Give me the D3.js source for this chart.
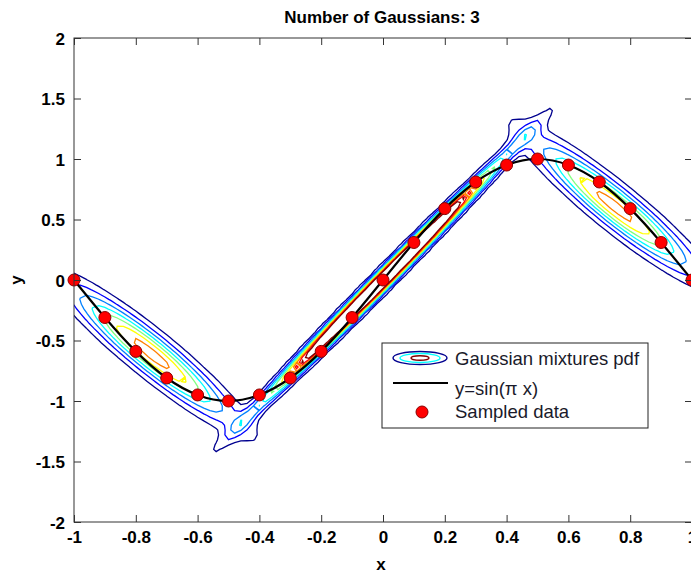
<!DOCTYPE html>
<html>
<head>
<meta charset="utf-8">
<script src="https://cdn.jsdelivr.net/npm/d3@7"></script>
<style>
  body { margin: 0; background: #fff; }
  svg { display: block; }
</style>
</head>
<body>
<div id="chart"></div>
<script>
/*
  GMM contour plot: Number of Gaussians: 3
*/

// sampled points of y = sin(pi x)
var sampleX = [-1, -0.9, -0.8, -0.7, -0.6, -0.5, -0.4, -0.3, -0.2, -0.1, 0,
               0.1, 0.2, 0.3, 0.4, 0.5, 0.6, 0.7, 0.8, 0.9, 1],
    sampleY = [0, -0.31, -0.59, -0.81, -0.95, -1, -0.95, -0.81, -0.59, -0.31, 0,
               0.31, 0.59, 0.81, 0.95, 1, 0.95, 0.81, 0.59, 0.31, 0];

// fitted mixture components
var mixWeights = [0.286, 0.428, 0.286],
    mixMeanX = [-0.75, 0, 0.75],
    mixMeanY = [-0.609, 0, 0.609],
    mixVarX = [0.0292, 0.053, 0.0292],
    mixVarY = [0.1285, 0.354, 0.1285],
    mixCovXY = [-0.0573, 0.1363, -0.0573];

// contour levels and jet colours
var contourLevels = [0.28, 0.56, 0.84, 1.12, 1.4, 1.68, 1.96, 2.24, 2.52],
    levelColors = ["#00008f", "#0000ff", "#0080ff", "#00ffff", "#80ff80",
                   "#ffff00", "#ff8000", "#ff0000", "#800000"];

var xTicks = [-1, -0.8, -0.6, -0.4, -0.2, 0, 0.2, 0.4, 0.6, 0.8, 1],
    yTicks = [-2, -1.5, -1, -0.5, 0, 0.5, 1, 1.5, 2];

var legendLabels = ["Gaussian mixtures pdf", "y=sin(\u03c0 x)", "Sampled data"];

var margin = {top: 38, right: 0, bottom: 52, left: 74},
    W = 691, H = 574,
    width = 618,
    height = 484,
    tickFont = "'Liberation Sans', Arial, sans-serif";

var x = d3.scaleLinear().domain([-1, 1]).range([0, width]),
    y = d3.scaleLinear().domain([-2, 2]).range([height, 0]);

var svg = d3.select("#chart").append("svg")
    .attr("width", W)
    .attr("height", H);

svg.append("defs").append("clipPath")
    .attr("id", "clip")
  .append("rect")
    .attr("width", width)
    .attr("height", height);

var g = svg.append("g")
    .attr("transform", "translate(" + margin.left + "," + margin.top + ")");

// density on a grid
var nx = 101, ny = 101,
    gdx = 2 / (nx - 1), gdy = 4 / (ny - 1),
    values = new Array(nx * ny);

function pdf(px, py) {
  var s = 0;
  for (var k = 0; k < mixWeights.length; k++) {
    var a = mixVarX[k], b = mixCovXY[k], c = mixVarY[k],
        det = a * c - b * b,
        dx = px - mixMeanX[k], dy = py - mixMeanY[k],
        q = (c * dx * dx - 2 * b * dx * dy + a * dy * dy) / det;
    s += mixWeights[k] * Math.exp(-q / 2) / (2 * Math.PI * Math.sqrt(det));
  }
  return s;
}

for (var j = 0; j < ny; j++) {
  for (var i = 0; i < nx; i++) {
    values[j * nx + i] = pdf(-1 + i * gdx, -2 + j * gdy);
  }
}

var contours = d3.contours()
    .size([nx, ny])
    .thresholds(contourLevels)(values);

var project = d3.geoTransform({
  point: function(px, py) {
    this.stream.point(x(-1 + (px - 0.5) * gdx), y(-2 + (py - 0.5) * gdy));
  }
});

g.append("g")
    .attr("clip-path", "url(#clip)")
  .selectAll("path")
    .data(contours)
  .enter().append("path")
    .attr("d", d3.geoPath(project))
    .attr("fill", "none")
    .attr("stroke", function(d, i) { return levelColors[i]; })
    .attr("stroke-width", 1.3);

// sine line through the samples
var points = sampleX.map(function(v, i) { return [v, sampleY[i]]; });

g.append("path")
    .datum(points)
    .attr("d", d3.line()
      .x(function(d) { return x(d[0]); })
      .y(function(d) { return y(d[1]); })
      .curve(d3.curveNatural))
    .attr("fill", "none")
    .attr("stroke", "#000")
    .attr("stroke-width", 2.2);

g.selectAll(".dot")
    .data(points)
  .enter().append("circle")
    .attr("class", "dot")
    .attr("cx", function(d) { return x(d[0]); })
    .attr("cy", function(d) { return y(d[1]); })
    .attr("r", 6)
    .attr("fill", "#ff0000")
    .attr("stroke", "#8a0000")
    .attr("stroke-width", 1);

// box + ticks (inward, all four sides)
var axisColor = "#333";

g.append("rect")
    .attr("width", width)
    .attr("height", height)
    .attr("fill", "none")
    .attr("stroke", axisColor)
    .attr("stroke-width", 1);

var axBottom = g.append("g")
    .attr("transform", "translate(0," + height + ")")
    .call(d3.axisBottom(x).tickValues(xTicks).tickSizeInner(-7).tickSizeOuter(0).tickPadding(9)
      .tickFormat(function(d) { return d; }));

var axTop = g.append("g")
    .call(d3.axisTop(x).tickValues(xTicks).tickSizeInner(-7).tickSizeOuter(0).tickFormat(""));

var axLeft = g.append("g")
    .call(d3.axisLeft(y).tickValues(yTicks).tickSizeInner(-7).tickSizeOuter(0).tickPadding(9)
      .tickFormat(function(d) { return d; }));

var axRight = g.append("g")
    .attr("transform", "translate(" + width + ",0)")
    .call(d3.axisRight(y).tickValues(yTicks).tickSizeInner(-7).tickSizeOuter(0).tickFormat(""));

[axBottom, axTop, axLeft, axRight].forEach(function(a) {
  a.select(".domain").remove();
  a.selectAll("line").attr("stroke", axisColor);
  a.selectAll("text")
    .style("font-family", tickFont)
    .style("font-weight", "bold")
    .style("font-size", "17px")
    .attr("fill", "#000");
});

axLeft.selectAll("text").attr("dy", "0.36em");

// title and axis labels
svg.append("text")
    .attr("x", margin.left + width / 2 - 1)
    .attr("y", 23)
    .attr("text-anchor", "middle")
    .style("font-family", tickFont)
    .style("font-weight", "bold")
    .style("font-size", "17px")
    .text("Number of Gaussians: 3");

svg.append("text")
    .attr("x", margin.left + width / 2 - 2)
    .attr("y", 570)
    .attr("text-anchor", "middle")
    .style("font-family", tickFont)
    .style("font-weight", "bold")
    .style("font-size", "17px")
    .text("x");

svg.append("text")
    .attr("transform", "translate(22," + (margin.top + height / 2) + ") rotate(-90)")
    .attr("text-anchor", "middle")
    .style("font-family", tickFont)
    .style("font-weight", "bold")
    .style("font-size", "17px")
    .text("y");

// legend
var lg = svg.append("g")
    .attr("transform", "translate(382,343)");

lg.append("rect")
    .attr("width", 266)
    .attr("height", 85)
    .attr("fill", "#fff")
    .attr("stroke", "#222")
    .attr("stroke-width", 1);

var ell = lg.append("g").attr("transform", "translate(38,15)");
[[27, 6.5, levelColors[0]], [20, 4.5, levelColors[3]], [9, 2.2, levelColors[8]]].forEach(function(e) {
  ell.append("ellipse")
    .attr("rx", e[0])
    .attr("ry", e[1])
    .attr("fill", "none")
    .attr("stroke", e[2])
    .attr("stroke-width", 1.4);
});

lg.append("line")
    .attr("x1", 11).attr("x2", 66)
    .attr("y1", 40).attr("y2", 40)
    .attr("stroke", "#000")
    .attr("stroke-width", 2.2);

lg.append("circle")
    .attr("cx", 40)
    .attr("cy", 69)
    .attr("r", 6)
    .attr("fill", "#ff0000")
    .attr("stroke", "#8a0000");

var rowBase = [22, 52, 75];

lg.selectAll(".lt")
    .data(legendLabels)
  .enter().append("text")
    .attr("class", "lt")
    .attr("x", 73)
    .attr("y", function(d, i) { return rowBase[i]; })
    .style("font-family", tickFont)
    .style("font-size", "18.5px")
    .attr("fill", "#1a1a2a")
    .text(function(d) { return d; });
</script>
</body>
</html>
